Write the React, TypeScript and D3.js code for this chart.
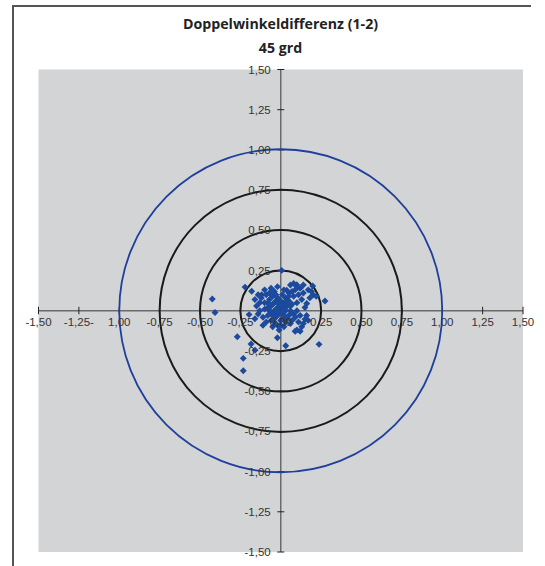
import React from "react";
import * as d3 from "d3";

// chart texts
const title = "Doppelwinkeldifferenz (1-2)";
const subtitle = "45 grd";

// tick values and labels as printed in the picture
const xTicks = [-1.5, -1.25, -1, -0.75, -0.5, -0.25, 0, 0.25, 0.5, 0.75, 1, 1.25, 1.5];
const xTickLabels = ["-1,50", "-1,25-", "1,00", "-0,75", "-0,50", "-0,25", "0,00", "0,25", "0,50", "0,75", "1,00", "1,25", "1,50"];
const yTicks = [1.5, 1.25, 1, 0.75, 0.5, 0.25, -0.25, -0.5, -0.75, -1, -1.25, -1.5];
const yTickLabels = ["1,50", "1,25", "1,00", "0,75", "0,50", "0,25", "-0,25", "-0,50", "-0,75", "-1,00", "-1,25", "-1,50"];

// reference rings
const blackRings = [0.25, 0.5, 0.75];
const blueRing = 1.0;

// measured double-angle differences (x, y)
const points: [number, number][] = [
  // outliers
  [-0.424, 0.073], [-0.407, -0.011], [-0.221, 0.147], [-0.18, 0.121], [-0.118, 0.1],
  [-0.196, -0.024], [0.006, 0.251], [0.099, 0.162], [0.198, 0.154], [0.274, 0.061],
  [0.161, 0.045], [0.037, 0.127], [-0.269, -0.162], [-0.184, -0.207], [-0.159, -0.245],
  [-0.232, -0.296], [-0.232, -0.373], [-0.021, -0.168], [0.031, -0.218], [0.237, -0.209],
  [0.089, -0.127], [0.12, -0.127], [0.15, -0.053],
  // main cluster
  [-0.12, 0.08], [-0.1, 0.05], [-0.09, 0.1], [-0.08, 0.02], [-0.07, 0.07], [-0.06, -0.01],
  [-0.05, 0.04], [-0.05, 0.09], [-0.04, 0.0], [-0.04, 0.12], [-0.03, 0.06], [-0.03, -0.04],
  [-0.02, 0.02], [-0.02, 0.08], [-0.01, -0.02], [-0.01, 0.04], [0.0, 0.0], [0.0, 0.06],
  [0.0, -0.06], [0.01, 0.1], [0.01, 0.02], [0.02, -0.03], [0.02, 0.05], [0.03, 0.08],
  [0.03, 0.0], [0.04, -0.05], [0.04, 0.03], [0.05, 0.11], [0.05, 0.06], [0.06, 0.0],
  [0.06, -0.08], [0.07, 0.04], [0.08, 0.09], [0.08, -0.02], [0.09, 0.13], [0.1, 0.05],
  [0.1, 0.0], [0.11, 0.1], [0.12, 0.14], [0.13, 0.07], [0.14, 0.11], [0.15, 0.02],
  [0.16, -0.03], [0.17, 0.13], [0.18, 0.08], [0.19, 0.12], [0.2, 0.1], [0.22, 0.09],
  [-0.15, 0.03], [-0.14, -0.02], [-0.13, 0.0], [-0.11, -0.04], [-0.1, 0.01], [-0.09, -0.07],
  [-0.08, -0.03], [-0.07, 0.0], [-0.06, -0.06], [-0.05, -0.1], [-0.04, -0.07], [-0.03, -0.02],
  [-0.02, -0.09], [-0.01, -0.12], [0.0, -0.09], [0.01, -0.05], [0.02, -0.1], [0.03, -0.07],
  [0.05, -0.03], [0.07, -0.06], [0.09, -0.04], [0.11, -0.07], [0.12, -0.03], [0.14, -0.08],
  [0.17, -0.06], [0.13, -0.1], [0.1, -0.12],
  [-0.06, 0.14], [-0.02, 0.15], [0.02, 0.13], [0.06, 0.16], [0.08, 0.17], [0.1, 0.15],
  [0.14, 0.16], [-0.1, 0.13], [-0.14, 0.1], [-0.16, 0.07], [-0.13, 0.05], [-0.11, -0.09],
  [-0.16, -0.05],
  [-0.06, 0.03], [-0.04, 0.05], [-0.02, 0.0], [0.0, 0.03], [0.02, 0.01], [0.04, 0.07],
  [-0.03, 0.1], [0.01, -0.01], [-0.08, 0.05], [0.06, 0.03], [-0.01, 0.07], [0.03, 0.04],
  [-0.05, -0.03], [0.05, 0.09], [-0.07, 0.11], [0.07, 0.12],
];

const W = 545;
const H = 566;
const plot = { left: 38.5, right: 523, top: 69.5, bottom: 552 };

export default function App() {
  const x = d3.scaleLinear().domain([-1.5, 1.5]).range([plot.left, plot.right]);
  const y = d3.scaleLinear().domain([-1.5, 1.5]).range([plot.bottom, plot.top]);
  const r = (v: number) => x(v) - x(0);
  const diamond = d3.symbol(d3.symbolSquare, 24)();
  const font = "'Liberation Sans', Arial, sans-serif";
  const titleFont = "'Open Sans', 'Liberation Sans', sans-serif";

  return (
    <div style={{ position: "absolute", left: 0, top: 0 }}>
      <svg width={W} height={H} style={{ display: "block", background: "#fff" }}>
        {/* outer frame */}
        <line x1={13} y1={6} x2={531} y2={6} stroke="#555" strokeWidth={2} />
        <line x1={13} y1={5} x2={13} y2={H} stroke="#555" strokeWidth={2} />

        <text x={280.5} y={29} textAnchor="middle" fontFamily={titleFont} fontWeight="bold" fontSize={14.2} fill="#222">
          {title}
        </text>
        <text x={280.5} y={53} textAnchor="middle" fontFamily={titleFont} fontWeight="bold" fontSize={14.2} fill="#222">
          {subtitle}
        </text>

        {/* plot area */}
        <rect x={plot.left} y={plot.top} width={plot.right - plot.left} height={plot.bottom - plot.top} fill="#d3d4d6" />

        {/* axes */}
        <line x1={x(-1.5)} x2={x(1.5)} y1={y(0)} y2={y(0)} stroke="#6b6b6b" strokeWidth={1.5} />
        <line x1={x(0)} x2={x(0)} y1={y(1.5)} y2={y(-1.5)} stroke="#6b6b6b" strokeWidth={1.5} />
        {xTicks.map((t) => (
          <line key={"xt" + t} x1={x(t)} x2={x(t)} y1={y(0) - 4} y2={y(0) + 3.5} stroke="#222" strokeWidth={1} />
        ))}
        {yTicks.map((t) => (
          <line key={"yt" + t} x1={x(0) - 3.5} x2={x(0) + 3.5} y1={y(t)} y2={y(t)} stroke="#222" strokeWidth={1} />
        ))}

        {/* rings */}
        {blackRings.map((v) => (
          <circle key={v} cx={x(0)} cy={y(0)} r={r(v)} fill="none" stroke="#1a1a1a" strokeWidth={2} />
        ))}
        <circle cx={x(0)} cy={y(0)} r={r(blueRing)} fill="none" stroke="#1f3f9c" strokeWidth={1.8} />

        {/* points */}
        {points.map((p, i) => (
          <path
            key={i}
            d={diamond || ""}
            transform={`translate(${x(p[0])},${y(p[1])}) rotate(45)`}
            fill="#1b4a9e"
          />
        ))}

        {/* tick labels */}
        {xTicks.map((t, i) => (
          <text key={"xl" + t} x={x(t)} y={y(0) + 15} textAnchor="middle" fontFamily={font} fontSize={11.5} fill="#333">
            {xTickLabels[i]}
          </text>
        ))}
        {yTicks.map((t, i) => (
          <text key={"yl" + t} x={x(0) - 10} y={y(t) + 4} textAnchor="end" fontFamily={font} fontSize={11.5} fill="#333">
            {yTickLabels[i]}
          </text>
        ))}
      </svg>
    </div>
  );
}
